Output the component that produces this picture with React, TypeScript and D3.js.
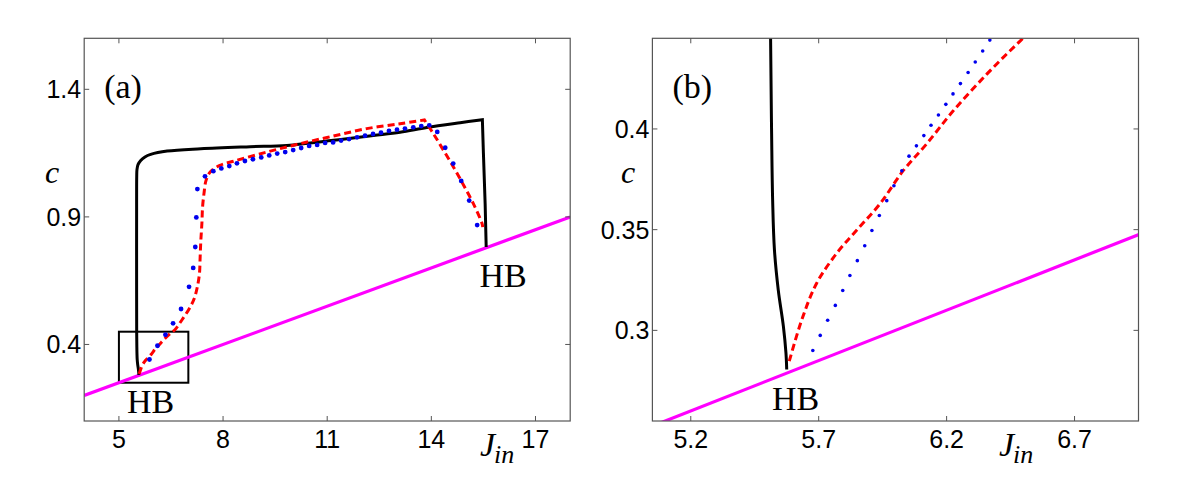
import React from 'react';
import * as d3 from 'd3';

// ---------- data ----------
// black solid branch (J_in, c)
const blackJ = [5.575, 5.572, 5.562, 5.542, 5.527, 5.52, 5.516, 5.512, 5.51, 5.51, 5.513, 5.52, 5.55, 5.628, 5.75, 5.916, 6.39, 7.36, 8.78, 9.84, 11.18, 12.33, 13.1, 13.87, 14.83, 15.47, 15.5, 15.55, 15.58];
const blackC = [0.2806, 0.2888, 0.302, 0.32, 0.34, 0.3646, 0.3975, 0.4445, 0.6, 0.95, 1.06, 1.085, 1.105, 1.121, 1.135, 1.145, 1.158, 1.167, 1.175, 1.18, 1.2, 1.219, 1.232, 1.25, 1.269, 1.281, 1.15, 0.95, 0.782];

// red dashed branch
const redJ = [5.585, 5.634, 5.692, 5.77, 5.849, 5.94, 6.031, 6.122, 6.226, 6.357, 6.487, 6.62, 6.81, 7.03, 7.17, 7.26, 7.32, 7.34, 7.36, 7.39, 7.41, 7.45, 7.51, 7.63, 7.91, 8.3, 9.26, 10.22, 11.18, 12.14, 13.1, 13.8, 14.06, 14.35, 14.64, 14.93, 15.21, 15.46, 15.48];
const redC = [0.2847, 0.3053, 0.3234, 0.3382, 0.3498, 0.3629, 0.3794, 0.3926, 0.409, 0.4272, 0.4436, 0.459, 0.495, 0.541, 0.58, 0.626, 0.678, 0.743, 0.808, 0.874, 0.939, 0.991, 1.043, 1.076, 1.102, 1.118, 1.154, 1.187, 1.217, 1.246, 1.265, 1.28, 1.226, 1.161, 1.095, 1.024, 0.952, 0.874, 0.86];

// blue dotted branch, panel (a)
const blueAJ = [5.88, 6.11, 6.34, 6.56, 6.79, 7.02, 7.14, 7.2, 7.23, 7.26, 7.48, 7.72, 7.95, 8.18, 8.4, 8.63, 8.86, 9.1, 9.33, 9.56, 9.79, 10.02, 10.25, 10.48, 10.71, 10.94, 11.17, 11.4, 11.63, 11.86, 12.09, 12.32, 12.55, 12.78, 13.01, 13.24, 13.48, 13.71, 13.94, 14.17, 14.4, 14.63, 14.86, 15.09, 15.32];
const blueAC = [0.341, 0.395, 0.438, 0.483, 0.539, 0.626, 0.7, 0.782, 0.898, 1.009, 1.059, 1.079, 1.09, 1.099, 1.11, 1.119, 1.126, 1.133, 1.141, 1.148, 1.154, 1.162, 1.17, 1.178, 1.182, 1.19, 1.192, 1.199, 1.205, 1.212, 1.218, 1.225, 1.23, 1.237, 1.242, 1.246, 1.251, 1.256, 1.259, 1.233, 1.171, 1.109, 1.041, 0.964, 0.868];

// blue dotted branch, panel (b) (finer sampling)
const blueBJ = [5.677, 5.706, 5.735, 5.765, 5.794, 5.822, 5.851, 5.88, 5.908, 5.937, 5.966, 5.994, 6.025, 6.053, 6.082, 6.111, 6.139, 6.168, 6.197, 6.225, 6.254, 6.284, 6.312, 6.341, 6.369];
const blueBC = [0.29, 0.2975, 0.305, 0.3124, 0.3198, 0.3272, 0.3346, 0.342, 0.3496, 0.357, 0.3644, 0.3718, 0.3792, 0.3865, 0.3916, 0.3967, 0.4018, 0.4069, 0.4122, 0.4174, 0.4225, 0.428, 0.4332, 0.4387, 0.4441];

// magenta line of equilibria
const magJ = [4, 18];
const magC = [0.2, 0.9];

// zoom box shown in (a)
const boxJ = [5, 7];
const boxC = [0.25, 0.45];

// axes
const aXDomain = [4, 18];
const aYDomain = [0.1, 1.6];
const aXTicks = [5, 8, 11, 14, 17];
const aYTicks = [0.4, 0.9, 1.4];
const bXDomain = [5.05, 6.95];
const bYDomain = [0.255, 0.445];
const bXTicks = [5.2, 5.7, 6.2, 6.7];
const bYTicks = [0.3, 0.35, 0.4];

type P = [number, number];
const zip = (a: number[], b: number[]): P[] => a.map((v, i) => [v, b[i]] as P);

// split a branch at its highest point (a sharp corner): smooth before, straight after
const splitAtPeak = (pts: P[]): [P[], P[]] => {
  const k = d3.maxIndex(pts, d => d[1]);
  return [pts.slice(0, k + 1), pts.slice(k)];
};

const TOP = 38.3;
const BOTTOM = 421;
const SERIF = '"Liberation Serif", "Times New Roman", serif';
const SANS = '"Liberation Sans", Arial, sans-serif';

interface PanelProps {
  id: string;
  left: number;
  right: number;
  xDomain: number[];
  yDomain: number[];
  xTicks: number[];
  yTicks: number[];
  blue: P[];
  blueR: number;
  label: string;
  hbs: { x: number; y: number }[];
  cX: number;
  jX: number;
  showBox: boolean;
}

function Panel(p: PanelProps) {
  const x = d3.scaleLinear().domain(p.xDomain).range([p.left, p.right]);
  const y = d3.scaleLinear().domain(p.yDomain).range([BOTTOM, TOP]);
  const line = d3.line<P>().x(d => x(d[0])).y(d => y(d[1]));
  const smooth = d3
    .line<P>()
    .x(d => x(d[0]))
    .y(d => y(d[1]))
    .curve(d3.curveCatmullRom.alpha(0.5));
  const [bk1, bk2] = splitAtPeak(zip(blackJ, blackC));
  const [rd1, rd2] = splitAtPeak(zip(redJ, redC));
  const tl = 5;
  const axisColor = '#555';
  const blackPath = (smooth(bk1) || '') + (line(bk2) || '').replace(/^M/, 'L');
  const redPath = (smooth(rd1) || '') + (smooth(rd2) || '').replace(/^M/, 'L');
  return (
    <g>
      <defs>
        <clipPath id={`clip-${p.id}`}>
          <rect x={p.left} y={TOP} width={p.right - p.left} height={BOTTOM - TOP} />
        </clipPath>
      </defs>
      <rect x={p.left} y={TOP} width={p.right - p.left} height={BOTTOM - TOP} fill="white" />
      <g clipPath={`url(#clip-${p.id})`}>
        {p.showBox && (
          <rect
            x={x(boxJ[0])}
            y={y(boxC[1])}
            width={x(boxJ[1]) - x(boxJ[0])}
            height={y(boxC[0]) - y(boxC[1])}
            fill="none"
            stroke="#000"
            strokeWidth={2}
          />
        )}
        <path d={line(zip(magJ, magC)) || ''} fill="none" stroke="#ff00ff" strokeWidth={3.2} />
        <path d={blackPath} fill="none" stroke="#000" strokeWidth={3} strokeLinejoin="miter" />
        <path d={redPath} fill="none" stroke="#ff0000" strokeWidth={3} strokeDasharray="7,4" />
        {p.blue.map((d, i) => (
          <circle key={i} cx={x(d[0])} cy={y(d[1])} r={p.blueR} fill="#0000ee" />
        ))}
      </g>
      {/* box */}
      <rect x={p.left} y={TOP} width={p.right - p.left} height={BOTTOM - TOP} fill="none" stroke={axisColor} strokeWidth={1.2} />
      {/* ticks */}
      {p.xTicks.map(t => (
        <g key={`x${t}`}>
          <line x1={x(t)} x2={x(t)} y1={BOTTOM} y2={BOTTOM - tl} stroke={axisColor} strokeWidth={1} />
          <line x1={x(t)} x2={x(t)} y1={TOP} y2={TOP + tl} stroke={axisColor} strokeWidth={1} />
          <text x={x(t)} y={448} textAnchor="middle" fontFamily={SANS} fontSize={25} fill="#000">
            {String(t)}
          </text>
        </g>
      ))}
      {p.yTicks.map(t => (
        <g key={`y${t}`}>
          <line x1={p.left} x2={p.left + tl} y1={y(t)} y2={y(t)} stroke={axisColor} strokeWidth={1} />
          <line x1={p.right} x2={p.right - tl} y1={y(t)} y2={y(t)} stroke={axisColor} strokeWidth={1} />
          <text x={p.left - 3} y={y(t) + 9} textAnchor="end" fontFamily={SANS} fontSize={25} fill="#000">
            {String(t)}
          </text>
        </g>
      ))}
      {/* labels */}
      <text x={p.left + 20} y={98} fontFamily={SERIF} fontSize={34} fill="#000">
        {p.label}
      </text>
      <text x={p.cX} y={182.7} fontFamily={SERIF} fontStyle="italic" fontSize={32} fill="#000">
        c
      </text>
      <text x={p.jX} y={456} fontFamily={SERIF} fontStyle="italic" fontSize={34} fill="#000">
        J
        <tspan dx={-1} dy={7} fontSize={26}>
          in
        </tspan>
      </text>
      {p.hbs.map((h, i) => (
        <text key={i} x={h.x} y={h.y} fontFamily={SERIF} fontSize={34} fill="#000">
          HB
        </text>
      ))}
    </g>
  );
}

export default function App() {
  return (
    <svg
      width={1200}
      height={478}
      viewBox="0 0 1200 478"
      style={{ position: 'absolute', left: 0, top: 0, background: '#fff' }}
    >
      <rect x={0} y={0} width={1200} height={478} fill="#fff" />
      <Panel
        id="a"
        left={84.2}
        right={570.2}
        xDomain={aXDomain}
        yDomain={aYDomain}
        xTicks={aXTicks}
        yTicks={aYTicks}
        blue={zip(blueAJ, blueAC)}
        blueR={2.4}
        label="(a)"
        hbs={[
          { x: 127, y: 412.7 },
          { x: 479.5, y: 286.7 },
        ]}
        cX={45}
        jX={480}
        showBox={true}
      />
      <Panel
        id="b"
        left={652.4}
        right={1138.5}
        xDomain={bXDomain}
        yDomain={bYDomain}
        xTicks={bXTicks}
        yTicks={bYTicks}
        blue={zip(blueBJ, blueBC)}
        blueR={1.8}
        label="(b)"
        hbs={[{ x: 772, y: 410 }]}
        cX={621}
        jX={999}
        showBox={false}
      />
    </svg>
  );
}
